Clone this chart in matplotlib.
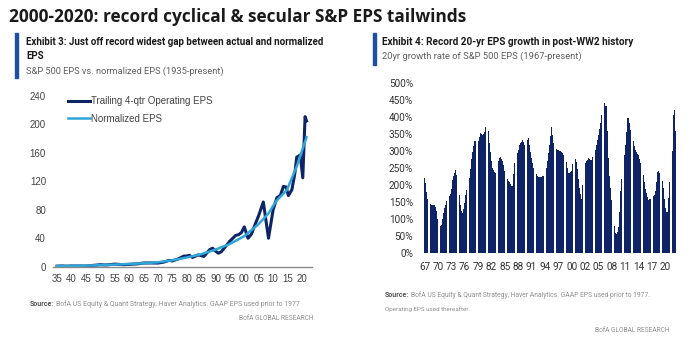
import matplotlib
matplotlib.use("Agg")
import matplotlib.pyplot as plt
from matplotlib.patches import Rectangle

# ---- left chart: S&P 500 EPS vs normalized EPS ----
eps_years = [1935, 1937, 1938, 1940, 1942, 1945, 1947, 1950, 1952, 1955, 1958, 1960,
             1963, 1965, 1967, 1970, 1972, 1974, 1975, 1977, 1979, 1980, 1981, 1982,
             1984, 1986, 1988, 1989, 1990, 1991, 1992, 1994, 1995, 1997, 1998, 1999,
             2000, 2001.3, 2002.5, 2004, 2005, 2006.6, 2008.4, 2010, 2011.3, 2012.5,
             2013.6, 2014.5, 2015.3, 2016.5, 2017.5, 2018.2, 2019.4, 2020.3, 2021.1, 2021.6]
eps_trailing = [0.8, 1.1, 0.7, 1.0, 1.0, 0.9, 1.6, 2.8, 2.4, 3.6, 2.9, 3.3,
                4.0, 5.2, 5.3, 5.1, 6.4, 8.9, 8.0, 10.9, 14.9, 15.0, 16.0, 13.0,
                16.6, 14.5, 24.0, 26.0, 22.0, 19.0, 21.0, 31.0, 36.0, 44.0, 45.0, 48.0,
                56.0, 40.0, 46.0, 62.0, 72.0, 91.0, 40.0, 80.0, 97.0, 100.0,
                113.0, 112.0, 100.0, 108.0, 130.0, 154.0, 157.0, 125.0, 211.0, 205.0]

norm_years = [1935, 1945, 1950, 1955, 1960, 1965, 1970, 1975, 1980, 1985, 1990, 1995,
              2000, 2005, 2008.4, 2011, 2014.8, 2018.2, 2021.6]
eps_normalized = [0.8, 1.5, 2.2, 3.0, 3.8, 4.8, 6.2, 9.0, 13.0, 17.5, 24.0, 32.0,
                  43.0, 60.0, 75.0, 92.0, 108.0, 141.0, 182.0]

left_xticks = list(range(1935, 2021, 5))
left_xlabels = ["%02d" % (y % 100) for y in left_xticks]
left_yticks = [0, 40, 80, 120, 160, 200, 240]

# ---- right chart: 20yr growth rate of S&P 500 EPS (quarterly) ----
growth_pct = [
    222, 205, 180, 160, 148, 145, 143, 142, 142, 142, 135, 124,
    102, 82, 79, 84, 100, 119, 133, 143, 152, 160, 167, 174,
    190, 215, 226, 235, 243, 231, 204, 171, 142, 125, 118, 130,
    148, 172, 186, 197, 220, 247, 276, 296, 314, 328, 329, 324,
    330, 342, 352, 350, 348, 349, 357, 370, 387, 358, 322, 296,
    272, 251, 243, 238, 235, 256, 272, 280, 282, 278, 270, 259,
    242, 229, 218, 213, 208, 203, 198, 196, 233, 264, 283, 294,
    304, 318, 323, 327, 332, 326, 318, 324, 331, 337, 318, 298,
    280, 264, 249, 236, 232, 228, 225, 224, 224, 225, 226, 228,
    230, 250, 271, 293, 318, 344, 370, 348, 322, 308, 306, 304,
    303, 301, 299, 298, 294, 289, 282, 267, 250, 235, 236, 237,
    241, 262, 282, 277, 268, 248, 219, 192, 175, 160, 200, 240,
    265, 270, 275, 279, 277, 275, 275, 282, 289, 303, 318, 333,
    348, 365, 383, 405, 425, 441, 431, 433, 360, 280, 228, 191,
    155, 108, 80, 60, 57, 63, 78, 122, 182, 218, 255, 288,
    318, 355, 396, 398, 382, 363, 347, 329, 314, 302, 296, 291,
    287, 277, 264, 249, 229, 209, 189, 178, 165, 156, 158, 160,
    162, 167, 172, 183, 210, 237, 240, 235, 222, 211, 192, 160,
    133, 121, 120, 162, 210, 250, 300, 405, 420, 360,
]
right_xlabels = ["67", "70", "73", "76", "79", "82", "85", "88", "91", "94",
                 "97", "00", "02", "05", "08", "11", "14", "17", "20"]
right_yticks = [0, 50, 100, 150, 200, 250, 300, 350, 400, 450, 500]

W, H = 700, 338
fig = plt.figure(figsize=(7, 3.38), dpi=100)
fig.patch.set_facecolor("white")
renderer = fig.canvas.get_renderer()

NAVY = "#0f2466"
CYAN = "#2ea6d8"
ACCENT = "#1f4fa3"
GREY = "#606060"
LIGHT = "#8f8f8f"
NARROW = "Roboto"


def fx(px):
    return px / W


def fy(py):
    return 1 - py / H


def fit_text(x0, x1, y, s, **kw):
    # put text between pixel x0 and x1, scaling the font to fill the span
    t = fig.text(fx(x0), fy(y), s, fontsize=10, va="center", **kw)
    w = t.get_window_extent(renderer).width
    t.set_fontsize(10 * (x1 - x0) / w)
    return t


def source_text(x0, x1, y, rest):
    head = fig.text(fx(x0), fy(y), "Source:", fontsize=5, fontweight="bold",
                    family=NARROW, color="#555555", va="center")
    hw = head.get_window_extent(renderer).width
    fit_text(x0 + hw + 2, x1, y, rest, family=NARROW, color=LIGHT)


# title and exhibit headers
fit_text(9, 466, 17, "2000-2020: record cyclical & secular S&P EPS tailwinds",
         fontweight="bold", family="Open Sans", color="#1a1a1a")

fig.patches.append(Rectangle((fx(15), fy(78)), fx(2.6), fy(33) - fy(78),
                             transform=fig.transFigure, color=ACCENT))
fit_text(26, 325, 42, "Exhibit 3: Just off record widest gap between actual and normalized",
         fontweight="bold", family=NARROW, color="#1a1a1a")
fig.text(fx(26), fy(56), "EPS", fontsize=7, fontweight="bold", family=NARROW,
         color="#1a1a1a", va="center")
fit_text(26, 224, 71, "S&P 500 EPS vs. normalized EPS (1935-present)",
         family=NARROW, color=GREY)

fig.patches.append(Rectangle((fx(372.5), fy(65)), fx(3), fy(33) - fy(65),
                             transform=fig.transFigure, color=ACCENT))
fit_text(382, 632, 42, "Exhibit 4: Record 20-yr EPS growth in post-WW2 history",
         fontweight="bold", family=NARROW, color="#1a1a1a")
fit_text(382, 582, 56, "20yr growth rate of S&P 500 EPS (1967-present)",
         family=NARROW, color=GREY)

# ---- left axes ----
ax1 = fig.add_axes([fx(53), fy(266.7), fx(312) - fx(53), fy(96) - fy(266.7)])
ax1.plot(eps_years, eps_trailing, color=NAVY, lw=2.2, label="Trailing 4-qtr Operating EPS",
         solid_joinstyle="round")
ax1.plot(norm_years, eps_normalized, color=CYAN, lw=1.8, label="Normalized EPS")
ax1.set_xlim(1933.6, 2023.5)
ax1.set_ylim(0, 240)
ax1.set_xticks(left_xticks)
ax1.set_xticklabels(left_xlabels)
ax1.set_yticks(left_yticks)
for s in ["top", "right", "left"]:
    ax1.spines[s].set_visible(False)
ax1.spines["bottom"].set_color("#8a8a8a")
ax1.spines["bottom"].set_linewidth(1.0)
ax1.tick_params(length=0, labelsize=7, labelcolor="#444444", pad=5)
ax1.tick_params(axis="y", pad=5)
for lab in ax1.get_xticklabels() + ax1.get_yticklabels():
    lab.set_family("Liberation Sans")
leg = ax1.legend(loc="upper left", bbox_to_anchor=(0.025, 1.05), frameon=False,
                 handlelength=2.2, handletextpad=0.1, labelspacing=0.75,
                 prop={"family": "Liberation Sans", "size": 7})
for t in leg.get_texts():
    t.set_color("#444444")

source_text(30, 297, 304, "BofA US Equity & Quant Strategy, Haver Analytics. GAAP EPS used prior to 1977")
fit_text(239, 314, 319, "BofA GLOBAL RESEARCH", family=NARROW, color=LIGHT)

# ---- right axes ----
ax2 = fig.add_axes([fx(424), fy(253.3), fx(676) - fx(424), fy(82.8) - fy(253.3)])
idx = list(range(len(growth_pct)))
ax2.bar(idx, growth_pct, width=0.8, color=NAVY, linewidth=0)
ax2.set_xlim(-0.5, len(growth_pct) - 0.5)
ax2.set_ylim(0, 500)
ax2.set_yticks(right_yticks)
ax2.set_yticklabels(["%d%%" % v for v in right_yticks])
ax2.set_xticks([12 * i for i in range(len(right_xlabels))])
ax2.set_xticklabels(right_xlabels)
for s in ax2.spines.values():
    s.set_visible(False)
ax2.tick_params(length=0, labelsize=7.2, labelcolor="#333333")
ax2.tick_params(axis="y", pad=8)
ax2.tick_params(axis="x", pad=6)
for lab in ax2.get_xticklabels() + ax2.get_yticklabels():
    lab.set_family(NARROW)

source_text(385, 653, 295, "BofA US Equity & Quant Strategy, Haver Analytics. GAAP EPS used prior to 1977.")
fit_text(385, 470, 309, "Operating EPS used thereafter.", family=NARROW, color=LIGHT)
fit_text(595, 670, 331, "BofA GLOBAL RESEARCH", family=NARROW, color=LIGHT)

fig.savefig("out.png", dpi=100, facecolor="white")
